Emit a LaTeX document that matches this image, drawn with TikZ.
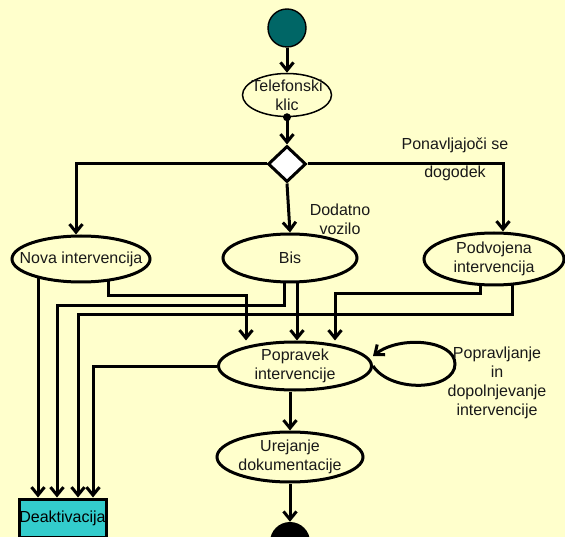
\documentclass[tikz,border=0pt]{standalone}
\usepackage{fontspec}
\setmainfont{Liberation Sans}
\usetikzlibrary{shapes.geometric,arrows.meta,backgrounds}
\definecolor{bgy}{RGB}{255,255,204}
\definecolor{teal0}{RGB}{0,102,102}
\definecolor{cyan0}{RGB}{51,204,204}
\begin{document}
\begin{tikzpicture}[x=1pt,y=-1pt,
  lw/.style={line width=3pt},
  arr/.style={lw, -{Straight Barb[length=8pt,width=13pt]}},
  act/.style={ellipse, draw, line width=3pt, fill=bgy, inner sep=0pt},
  txt/.style={align=center, font=\fontsize{16}{19}\selectfont, inner sep=0pt, text=black!90},
]
\clip (0,0) rectangle (565,537);
\useasboundingbox (0,0) rectangle (565,537);
% nodes
\node[circle, draw, line width=1.4pt, fill=teal0, minimum size=38pt, inner sep=0pt] (start) at (287,28) {};
\node[act, line width=1.5pt, minimum width=89pt, minimum height=43pt] (tk) at (287,95) {};
\node[txt] (tkt) at (tk) {Telefonski\\klic};
\node[diamond, draw, lw, fill=white, minimum width=38pt, minimum height=36pt, inner sep=0pt] (dia) at (287,164) {};
\node[act, minimum width=138pt, minimum height=46pt] (nova) at (81,259) {};
\node[txt] (novat) at (nova) {Nova intervencija};
\node[act, minimum width=134pt, minimum height=48pt] (bis) at (290,258) {};
\node[txt] (bist) at (bis) {Bis};
\node[act, minimum width=140pt, minimum height=52pt] (podv) at (494,259) {};
\node[txt] (podvt) at (podv) {Podvojena\\intervencija};
\node[act, minimum width=153pt, minimum height=48pt] (pop) at (295,366) {};
\node[txt] (popt) at (pop) {Popravek\\intervencije};
\node[act, minimum width=146pt, minimum height=50pt] (ure) at (290,457) {};
\node[txt] (uret) at (ure) {Urejanje\\dokumentacije};
\node[circle, fill=black, minimum size=40pt, inner sep=0pt] (end) at (290,542) {};
\node[draw, lw, fill=cyan0, minimum width=87pt, minimum height=38pt, inner sep=0pt, font=\fontsize{16}{19}\selectfont] (deak) at (62.5,518) {Deaktivacija};
% labels
\node[txt] (lbl1) at (340,219) {Dodatno\\vozilo};
\node[txt] (lbl2) at (455,159) {Ponavljajoči se\\[9pt]dogodek};
\node[txt] (lbl3) at (497,383) {Popravljanje\\in\\dopolnjevanje\\intervencije};
\fill (tk.south) circle (4pt);
% connectors
\begin{scope}[on background layer]
\fill[bgy] (0,0) rectangle (565,537);
\draw[arr] (start.south) -- (tk.north);
\draw[arr] (tk.south) -- (dia.north);
\draw[arr] (dia.west) -| (nova.north -| 76,0);
\draw[arr] (dia.east) -| (podv.north -| 503,0);
\draw[arr] (dia.south) -- (bis.north);
\draw[arr] (nova.center -| 38,0) -- (deak.north -| 38,0);
\draw[arr] (nova.center -| 108,0) |- (246,296) -- (pop.north -| 246,0);
\draw[arr] (bis.center -| 284,0) |- (57,306) -- (deak.north -| 57,0);
\draw[arr] (bis.center -| 297,0) -- (pop.north -| 297,0);
\draw[arr] (podv.center -| 480,0) |- (335,294) -- (pop.north -| 335,0);
\draw[arr] (podv.center -| 512,0) |- (78,315) -- (deak.north -| 78,0);
\draw[arr] (pop.west) -| (deak.north -| 93,0);
\draw[arr] (pop.south -| ure.north) -- (ure.north);
\draw[arr] (ure.south) -- (end.north);
\draw[arr] (pop.east) .. controls (392,394) and (455,390) .. (455,364) .. controls (455,340) and (400,335) .. (373,356);
\end{scope}
\end{tikzpicture}
\end{document}
